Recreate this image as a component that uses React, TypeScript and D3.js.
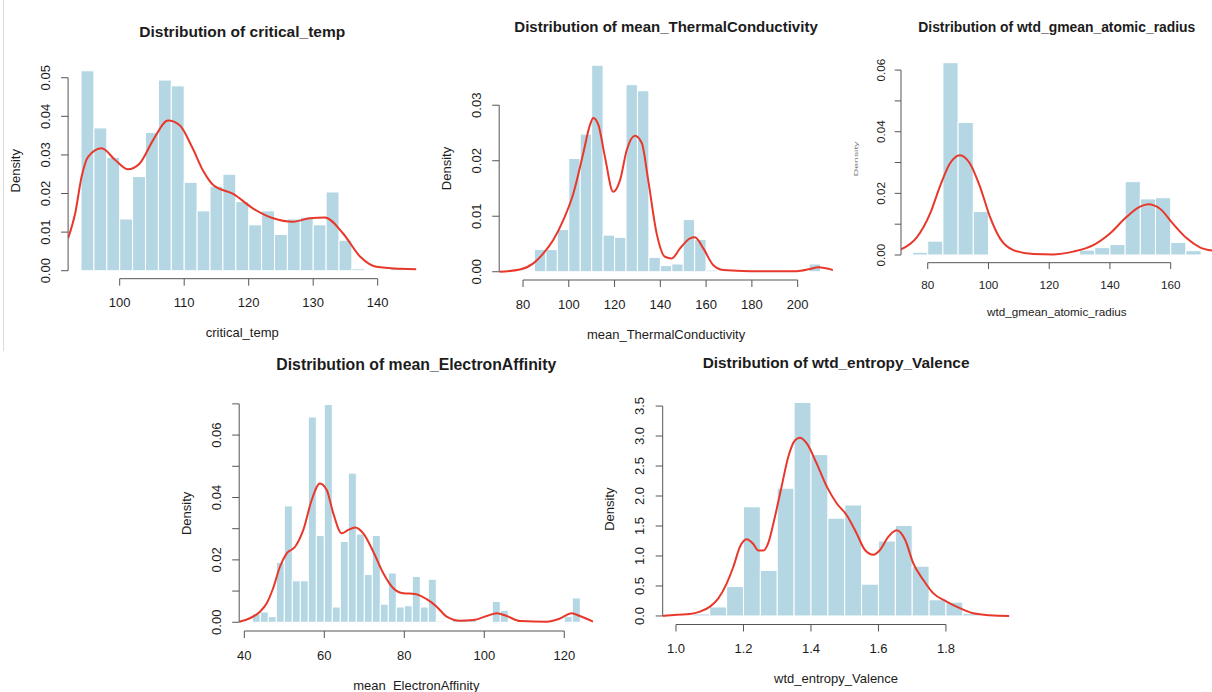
import React from 'react';
import * as d3 from 'd3';

const WIDTH = 1212;
const HEIGHT = 692;
const BAR_FILL = '#b5d7e3';
const LINE_RED = '#e8382b';
const AXIS_COLOR = '#555';
const TEXT_COLOR = '#1c1c1c';
const FONT = '"Liberation Sans", Arial, Helvetica, sans-serif';

// critical_temp
const critBreaks = [94, 96, 98, 100, 102, 104, 106, 108, 110, 112, 114, 116, 118, 120, 122, 124, 126, 128, 130, 132, 134, 136, 138, 140, 142, 144];
const critHeights = [0.0518, 0.037, 0.0294, 0.0134, 0.0244, 0.0358, 0.0494, 0.0479, 0.0229, 0.0155, 0.0219, 0.025, 0.0179, 0.0119, 0.0155, 0.0094, 0.0134, 0.0139, 0.0119, 0.0204, 0.0079, 0.0005, 0, 0, 0.0007];
const critDensity = [
  [92.0, 0.0084], [93.1, 0.0149], [94.1, 0.0244], [95.1, 0.0295], [97.2, 0.0317], [99.3, 0.0287],
  [101.3, 0.0263], [103.1, 0.0278], [105.2, 0.0339], [107.5, 0.0389], [109.3, 0.0377], [111.2, 0.0321],
  [113.0, 0.0257], [114.5, 0.0222], [117.6, 0.0199], [120.7, 0.0161], [123.8, 0.0136], [126.9, 0.0127],
  [129.5, 0.0136], [131.8, 0.0138], [134.6, 0.0097], [137.3, 0.0036], [139.8, 0.001], [143.5, 0.0005], [146, 0.0004],
];

// mean_ThermalConductivity
const thermBreaks = [85, 90, 95, 100, 105, 110, 115, 120, 125, 130, 135, 140, 145, 150, 155, 160, 165, 170, 175, 180, 185, 190, 195, 200, 205, 210];
const thermHeights = [0.004, 0.004, 0.0076, 0.0204, 0.0248, 0.0372, 0.0066, 0.0062, 0.0337, 0.0326, 0.0026, 0.0011, 0.0014, 0.0094, 0.0058, 0.0003, 0, 0, 0, 0, 0, 0, 0, 0, 0.0014];
const thermDensity = [
  [69.6, 0.0], [78.7, 0.0004], [84.5, 0.0015], [88.9, 0.0033], [93.2, 0.0057], [97.6, 0.0093],
  [102.0, 0.0141], [106.3, 0.0213], [109.3, 0.0265], [110.7, 0.0277], [112.9, 0.0265], [115.8, 0.0207],
  [119.4, 0.0144], [122.4, 0.0165], [125.3, 0.0219], [128.9, 0.0245], [131.9, 0.0232], [134.7, 0.0165],
  [138.4, 0.0069], [142.0, 0.0027], [145.0, 0.0024], [148.6, 0.0042], [153.0, 0.006], [155.1, 0.0062],
  [158.8, 0.0042], [163.1, 0.0012], [167.5, 0.0003], [179.2, 0.0001], [199.6, 0.0001], [205.4, 0.0005],
  [209.0, 0.0008], [215.5, 0.0003],
];

// wtd_gmean_atomic_radius
const radiusBreaks = [75, 80, 85, 90, 95, 100, 105, 110, 115, 120, 125, 130, 135, 140, 145, 150, 155, 160, 165, 170];
const radiusHeights = [0.0009, 0.0045, 0.0624, 0.043, 0.0141, 0, 0.0003, 0, 0, 0, 0.0003, 0.0016, 0.0024, 0.0034, 0.0238, 0.0182, 0.0186, 0.0041, 0.0014];
const radiusDensity = [
  [71.2, 0.0018], [76.4, 0.0057], [80.8, 0.0135], [84.0, 0.0222], [87.3, 0.0297], [90.6, 0.0324],
  [93.9, 0.0297], [97.2, 0.0222], [100.5, 0.0124], [103.8, 0.0054], [108.2, 0.0016], [114.8, 0.0003],
  [121.3, 0.0002], [127.9, 0.0011], [134.5, 0.0032], [140.0, 0.007], [145.5, 0.0124], [149.9, 0.0157],
  [152.6, 0.0165], [156.4, 0.0151], [160.8, 0.0101], [165.3, 0.0054], [169.6, 0.0025], [173.8, 0.0014],
];

// mean_ElectronAffinity
const affinityBreaks = [42, 44, 46, 48, 50, 52, 54, 56, 58, 60, 62, 64, 66, 68, 70, 72, 74, 76, 78, 80, 82, 84, 86, 88, 90, 92, 94, 96, 98, 100, 102, 104, 106, 108, 110, 112, 114, 116, 118, 120, 122, 124];
const affinityHeights = [0.0027, 0.0033, 0.0018, 0.0192, 0.0373, 0.0133, 0.0133, 0.0658, 0.0278, 0.0698, 0.0049, 0.0259, 0.0478, 0.0283, 0.0153, 0.0278, 0.0058, 0.0158, 0.0049, 0.0053, 0.0147, 0.0049, 0.0138, 0.0004, 0, 0.001, 0.001, 0.001, 0, 0, 0.0067, 0.0038, 0, 0, 0, 0, 0, 0, 0, 0.0018, 0.0078];
const affinityDensity = [
  [38.75, 0.0002], [41.4, 0.0013], [43.9, 0.0034], [45.6, 0.0061], [47.2, 0.0109], [48.9, 0.0178],
  [50.6, 0.0221], [52.7, 0.0242], [54.75, 0.0296], [56.85, 0.0392], [58.9, 0.0445], [60.6, 0.0424],
  [62.25, 0.0349], [64.35, 0.0285], [66.0, 0.0296], [67.7, 0.0304], [69.75, 0.0285], [72.25, 0.0226],
  [74.75, 0.0157], [77.25, 0.0109], [79.75, 0.0093], [82.7, 0.0091], [85.6, 0.0074], [88.1, 0.005],
  [90.6, 0.0018], [94.0, 0.0005], [97.25, 0.0007], [100.6, 0.002], [103.1, 0.0029], [105.6, 0.002],
  [109.0, 0.0004], [115.6, 0.0002], [118.9, 0.0012], [121.85, 0.0029], [123.9, 0.002], [127.2, 0.0002],
];

// wtd_entropy_Valence
const valenceBreaks = [1.05, 1.1, 1.15, 1.2, 1.25, 1.3, 1.35, 1.4, 1.45, 1.5, 1.55, 1.6, 1.65, 1.7, 1.75, 1.8, 1.85, 1.9];
const valenceHeights = [0.033, 0.15, 0.49, 1.82, 0.76, 2.13, 3.56, 2.69, 1.63, 1.85, 0.53, 1.25, 1.51, 0.83, 0.27, 0.23, 0.044];
const valenceDensity = [
  [0.96, 0.0], [1.002, 0.022], [1.0415, 0.033], [1.071, 0.072], [1.1007, 0.156], [1.125, 0.29],
  [1.15, 0.54], [1.17, 0.82], [1.19, 1.16], [1.2095, 1.28], [1.229, 1.2], [1.244, 1.09], [1.259, 1.09],
  [1.273, 1.21], [1.293, 1.65], [1.313, 2.16], [1.333, 2.66], [1.353, 2.93], [1.367, 2.97], [1.387, 2.88],
  [1.417, 2.54], [1.4465, 2.16], [1.476, 1.88], [1.506, 1.68], [1.535, 1.38], [1.56, 1.1], [1.585, 1.02],
  [1.6045, 1.1], [1.629, 1.32], [1.654, 1.43], [1.679, 1.27], [1.703, 0.88], [1.733, 0.6], [1.762, 0.38],
  [1.802, 0.24], [1.841, 0.13], [1.881, 0.044], [1.93, 0.011], [1.988, 0.0],
];

const Histogram = ({ id, title, xLabel, breaks, heights, density, xTicks, xDigits = 0, yTicks, yLabelled, yDigits, xDomain, plot, titleSize = 15, textSize = 13, squishDensity = false }) => {
  const yMax = d3.max(heights) ?? 1;
  const xScale = d3.scaleLinear().domain(xDomain).range([plot.left, plot.right]);
  const yScale = d3.scaleLinear().domain([-0.04 * yMax, 1.04 * yMax]).range([plot.bottom, plot.top]);
  const yFmt = d3.format(`.${yDigits}f`);
  const xFmt = d3.format(`.${xDigits}f`);
  const line = d3.line().x((d) => xScale(d[0])).y((d) => yScale(d[1])).curve(d3.curveMonotoneX);
  const cx = (plot.left + plot.right) / 2;
  const cy = (plot.top + plot.bottom) / 2;
  const k = textSize / 13;
  const clipId = `clip-${id}`;

  return (
    <g>
      <defs>
        <clipPath id={clipId}>
          <rect x={plot.left} y={plot.top} width={plot.right - plot.left} height={plot.bottom - plot.top} />
        </clipPath>
      </defs>
      <text x={cx} y={plot.top - 31 * k} textAnchor="middle" dominantBaseline="central" fontSize={titleSize} fontWeight="bold" fill={TEXT_COLOR}>
        {title}
      </text>

      <g clipPath={`url(#${clipId})`}>
        {heights.map((h, i) =>
          h > 0 ? (
            <rect key={i} x={xScale(breaks[i])} y={yScale(h)} width={xScale(breaks[i + 1]) - xScale(breaks[i])} height={yScale(0) - yScale(h)} fill={BAR_FILL} stroke="#fff" strokeWidth={1} />
          ) : null
        )}
        <path d={line(density) ?? ''} fill="none" stroke={LINE_RED} strokeWidth={2} />
      </g>

      {/* x axis */}
      <line x1={xScale(xTicks[0])} x2={xScale(xTicks[xTicks.length - 1])} y1={plot.bottom} y2={plot.bottom} stroke={AXIS_COLOR} />
      {xTicks.map((t) => (
        <g key={t}>
          <line x1={xScale(t)} x2={xScale(t)} y1={plot.bottom} y2={plot.bottom + 7 * k} stroke={AXIS_COLOR} />
          <text x={xScale(t)} y={plot.bottom + 24 * k} textAnchor="middle" dominantBaseline="central" fontSize={textSize} fill={TEXT_COLOR}>
            {xFmt(t)}
          </text>
        </g>
      ))}
      <text x={cx} y={plot.bottom + 54 * k} textAnchor="middle" dominantBaseline="central" fontSize={textSize} fill={TEXT_COLOR}>
        {xLabel}
      </text>

      {/* y axis */}
      <line x1={plot.left} x2={plot.left} y1={yScale(yTicks[0])} y2={yScale(yTicks[yTicks.length - 1])} stroke={AXIS_COLOR} />
      {yTicks.map((t) => (
        <g key={t}>
          <line x1={plot.left - 7 * k} x2={plot.left} y1={yScale(t)} y2={yScale(t)} stroke={AXIS_COLOR} />
          {yLabelled.includes(t) && (
            <text transform={`translate(${plot.left - 23 * k},${yScale(t)}) rotate(-90)`} textAnchor="middle" dominantBaseline="central" fontSize={textSize} fill={TEXT_COLOR}>
              {yFmt(t)}
            </text>
          )}
        </g>
      ))}
      {squishDensity ? (
        <text transform={`translate(${plot.left - 45},${cy}) rotate(-90) scale(0.8,0.4)`} textAnchor="middle" dominantBaseline="central" fontSize={13} fill="#777">
          Density
        </text>
      ) : (
        <text transform={`translate(${plot.left - 53 * k},${cy}) rotate(-90)`} textAnchor="middle" dominantBaseline="central" fontSize={textSize} fill={TEXT_COLOR}>
          Density
        </text>
      )}
    </g>
  );
};

const App = () => {
  return (
    <svg width={WIDTH} height={HEIGHT} style={{ position: 'absolute', left: 0, top: 0, display: 'block', background: '#fff' }} fontFamily={FONT}>
      <rect width={WIDTH} height={HEIGHT} fill="#fff" />
      <line x1={3.5} x2={3.5} y1={0} y2={351} stroke="#dcdcdc" />

      <Histogram
        id="crit"
        title="Distribution of critical_temp"
        xLabel="critical_temp"
        breaks={critBreaks}
        heights={critHeights}
        density={critDensity}
        xTicks={[100, 110, 120, 130, 140]}
        yTicks={[0, 0.01, 0.02, 0.03, 0.04, 0.05]}
        yLabelled={[0, 0.01, 0.02, 0.03, 0.04, 0.05]}
        yDigits={2}
        xDomain={[92, 146]}
        plot={{ left: 68.1, right: 416.4, top: 62.8, bottom: 278.7 }}
        titleSize={15.5}
      />
      <Histogram
        id="therm"
        title="Distribution of mean_ThermalConductivity"
        xLabel="mean_ThermalConductivity"
        breaks={thermBreaks}
        heights={thermHeights}
        density={thermDensity}
        xTicks={[80, 100, 120, 140, 160, 180, 200]}
        yTicks={[0, 0.01, 0.02, 0.03]}
        yLabelled={[0, 0.01, 0.02, 0.03]}
        yDigits={2}
        xDomain={[69.6, 215.4]}
        plot={{ left: 499.2, right: 832.9, top: 57.0, bottom: 280.0 }}
        titleSize={15}
      />
      <Histogram
        id="radius"
        title="Distribution of wtd_gmean_atomic_radius"
        xLabel="wtd_gmean_atomic_radius"
        breaks={radiusBreaks}
        heights={radiusHeights}
        density={radiusDensity}
        xTicks={[80, 100, 120, 140, 160]}
        yTicks={[0, 0.01, 0.02, 0.03, 0.04, 0.05, 0.06]}
        yLabelled={[0, 0.02, 0.04, 0.06]}
        yDigits={2}
        xDomain={[71.2, 173.8]}
        plot={{ left: 901.0, right: 1212.6, top: 55.0, bottom: 262.7 }}
        titleSize={13.9}
        textSize={11.7}
        squishDensity
      />
      <Histogram
        id="affinity"
        title="Distribution of mean_ElectronAffinity"
        xLabel="mean_ElectronAffinity"
        breaks={affinityBreaks}
        heights={affinityHeights}
        density={affinityDensity}
        xTicks={[40, 60, 80, 100, 120]}
        yTicks={[0, 0.01, 0.02, 0.03, 0.04, 0.05, 0.06, 0.07]}
        yLabelled={[0, 0.02, 0.04, 0.06]}
        yDigits={2}
        xDomain={[38.72, 127.28]}
        plot={{ left: 239.2, right: 593.4, top: 395.8, bottom: 631.0 }}
        titleSize={15.8}
      />
      <Histogram
        id="valence"
        title="Distribution of wtd_entropy_Valence"
        xLabel="wtd_entropy_Valence"
        breaks={valenceBreaks}
        heights={valenceHeights}
        density={valenceDensity}
        xTicks={[1.0, 1.2, 1.4, 1.6, 1.8]}
        xDigits={1}
        yTicks={[0, 0.5, 1, 1.5, 2, 2.5, 3, 3.5]}
        yLabelled={[0, 0.5, 1, 1.5, 2, 2.5, 3, 3.5]}
        yDigits={1}
        xDomain={[0.9606, 1.988]}
        plot={{ left: 662.7, right: 1009.4, top: 393.9, bottom: 624.5 }}
        titleSize={15.4}
      />
    </svg>
  );
};

export default App;
